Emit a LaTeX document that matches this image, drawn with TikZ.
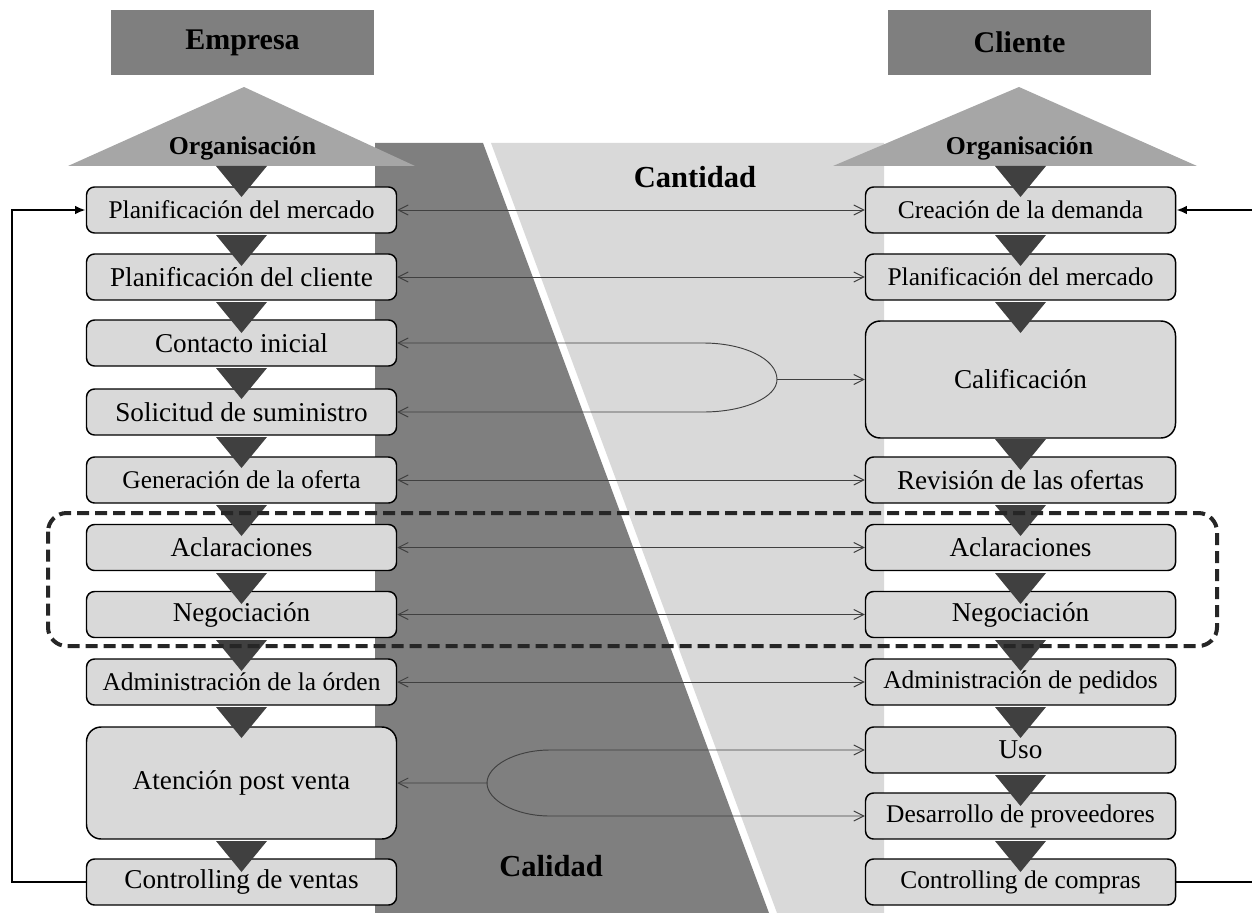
\documentclass[tikz,border=0pt]{standalone}
\usepackage{fontspec}
\setmainfont{Liberation Serif}
\usetikzlibrary{arrows.meta}

\definecolor{titlegray}{HTML}{7F7F7F}
\definecolor{orggray}{HTML}{A6A6A6}
\definecolor{darkband}{HTML}{7F7F7F}
\definecolor{lightband}{HTML}{D9D9D9}
\definecolor{boxfill}{HTML}{D9D9D9}
\definecolor{stepdark}{HTML}{404040}
\definecolor{linkgray}{HTML}{404040}
\definecolor{dashcol}{HTML}{262626}

% downward pointing connector triangle, top edge centred at (#1,#2)
\newcommand\downtri[2]{\fill[stepdark] (#1,#2) ++(-25.5,0) -- ++(51,0) -- ++(-25.5,31) -- cycle;}

\begin{document}
\begin{tikzpicture}[x=0.75pt,y=-0.75pt,
  proc/.style={draw=black, line width=1.1pt, fill=boxfill, rounded corners=6pt,
    minimum width=232.5pt, minimum height=34.5pt, inner sep=0pt,
    font=\fontsize{20.4}{22}\selectfont},
  small/.style={font=\fontsize{19.1}{21}\selectfont},
  tallbox/.style={minimum height=#1, rounded corners=11pt},
  titlebox/.style={fill=titlegray, minimum width=197pt, minimum height=49pt,
    inner sep=0pt, font=\fontsize{22.5}{24}\selectfont\bfseries},
  orgtext/.style={font=\fontsize{19.3}{21}\selectfont\bfseries, inner sep=0pt},
  bandlabel/.style={font=\fontsize{22.9}{25}\selectfont\bfseries, inner sep=0pt},
  barb/.tip={Straight Barb[length=7.5pt,width=7.5pt]},
  link/.style={draw=linkgray, line width=0.7pt},
  loopline/.style={draw=black, line width=1.6pt},
  frame/.style={draw=dashcol, line width=3pt, dash pattern=on 9pt off 4.5pt,
    rounded corners=14pt}
]
\useasboundingbox (0,0) rectangle (1252,913);

% quality / quantity bands
\fill[darkband] (375,143) -- (483,143) -- (769,913) -- (375,913) -- cycle;
\fill[lightband] (491,143) -- (884,143) -- (884,913) -- (777,913) -- cycle;
\node[bandlabel] (cantidad) at (695,177) {Cantidad};
\node[bandlabel] (calidad) at (551,866) {Calidad};

% headers
\node[titlebox] (empresa) at (242.5,42.5) {Empresa};
\node[titlebox] (cliente) at (1019.5,42.5) {Cliente};
\fill[orggray] (244,87) -- (415,166) -- (68,166) -- cycle;
\fill[orggray] (1019,87) -- (1197,166) -- (833,166) -- cycle;
\node[orgtext] (orgL) at (242.5,148) {Organisación};
\node[orgtext] (orgR) at (1019.5,148) {Organisación};

% company process
\node[proc,small] (lpm) at (241.5,210) {Planificación del mercado};
\node[proc] (lpc) at (241.5,277) {Planificación del cliente};
\node[proc] (lci) at (241.5,343) {Contacto inicial};
\node[proc] (lss) at (241.5,412) {Solicitud de suministro};
\node[proc,small] (lgo) at (241.5,480) {Generación de la oferta};
\node[proc] (lac) at (241.5,547.5) {Aclaraciones};
\node[proc] (lng) at (241.5,614.5) {Negociación};
\node[proc,small] (lad) at (241.5,682) {Administración de la órden};
\node[proc,tallbox=84pt] (lat) at (241.5,783) {Atención post venta};
\node[proc] (lcv) at (241.5,882) {Controlling de ventas};

% customer process
\node[proc,small] (rcd) at (1020.5,210) {Creación de la demanda};
\node[proc,small] (rpm) at (1020.5,277) {Planificación del mercado};
\node[proc,tallbox=87.75pt] (rcal) at (1020.5,379.5) {Calificación};
\node[proc] (rro) at (1020.5,480) {Revisión de las ofertas};
\node[proc] (rac) at (1020.5,547.5) {Aclaraciones};
\node[proc] (rng) at (1020.5,614.5) {Negociación};
\node[proc,small] (rap) at (1020.5,682) {Administración de pedidos};
\node[proc] (rus) at (1020.5,750) {Uso};
\node[proc,small] (rdp) at (1020.5,816) {Desarrollo de proveedores};
\node[proc,small] (rcc) at (1020.5,882) {Controlling de compras};

% exchanges between both sides
\draw[link,barb-barb] (lpm.east) -- (rcd.west);
\draw[link,barb-barb] (lpc.east) -- (rpm.west);
\draw[link,barb-barb] (lgo.east) -- (rro.west);
\draw[link,barb-barb] (lac.east) -- (rac.west);
\draw[link,barb-barb] (lng.east) -- (rng.west);
\draw[link,barb-barb] (lad.east) -- (rap.west);

% fork into qualification
\coordinate (forkA) at (777,379.5);
\draw[link,barb-barb] (lci.east) -- (703,343) .. controls (744,343) and (777,359) .. (forkA) -- (rcal.west);
\draw[link,barb-] (lss.east) -- (703,412) .. controls (744,412) and (777,397.5) .. (forkA);

% fork out of after-sales service
\coordinate (forkB) at (487,783);
\draw[link,barb-barb] (lat.east) -- (forkB) .. controls (487,766) and (515,750) .. (550,750) -- (rus.west);
\draw[link,-barb] (forkB) .. controls (487,800) and (515,816) .. (550,816) -- (rdp.west);

% feedback loops
\coordinate (rin) at (1252,210);
\coordinate (rout) at (1252,882);
\draw[loopline,-{Latex[length=8pt,width=6.5pt]}] (lcv.west) -- ++(-74,0) |- (lpm.west);
\draw[loopline,-{Latex[length=8pt,width=6.5pt]}] (rin) -- (rcd.east);
\draw[loopline] (rcc.east) -- (rout);

% flow triangles
\foreach \t in {166,235,302,368,437,505,573,640,707,841} {\downtri{241.5}{\t}}
\foreach \t in {166,235,302,439,505,573,640,707,775,841} {\downtri{1020.5}{\t}}

% negotiation phase frame
\draw[frame] (48,513) rectangle (1217,646);
\end{tikzpicture}
\end{document}
